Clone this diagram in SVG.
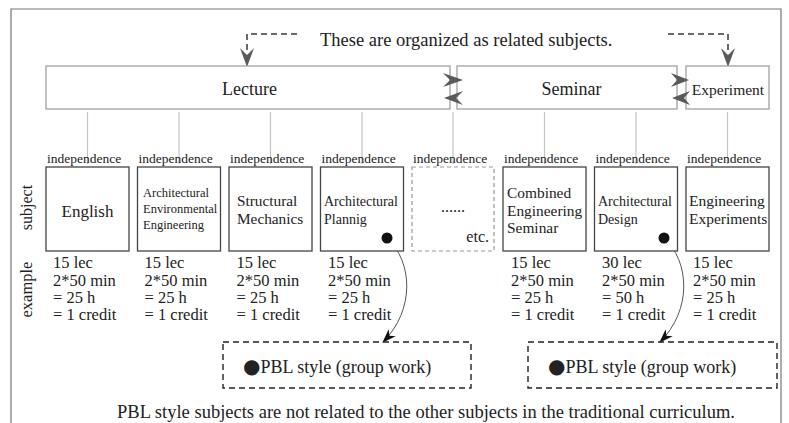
<svg xmlns="http://www.w3.org/2000/svg" width="789" height="423" viewBox="0 0 789 423" font-family="'Liberation Serif', 'Times New Roman', 'DejaVu Serif', serif">
<defs>
<style>
text{font-family:'Liberation Serif','Times New Roman','DejaVu Serif',serif;fill:#222}
.top{fill:#fff;stroke:#999;stroke-width:1.2}
.sub{fill:#fff;stroke:#444;stroke-width:1.3}
.conn{stroke:#c4c4c4;stroke-width:1.2;fill:none}
.ind{font-size:13.5px}
.ex{font-size:16.5px}
.pbl{fill:none;stroke:#222;stroke-width:1.4;stroke-dasharray:6 4}
.dash{fill:none;stroke:#6a6a6a;stroke-width:2;stroke-dasharray:6 4}
.ah{fill:#5a5a5a}
.curve{fill:none;stroke:#555;stroke-width:1}
.dot{font-family:'DejaVu Sans',sans-serif;font-size:20px}
</style>
<marker id="blk" viewBox="0 0 14 10" refX="13" refY="5" markerWidth="14" markerHeight="10" markerUnits="userSpaceOnUse" orient="auto">
<path d="M0,0 L14,5 L0,10 L4,5 Z" fill="#111"/>
</marker>
</defs>
<rect width="789" height="423" fill="#fff"/>
<path d="M11,423 V9 H781 V423" fill="none" stroke="#777" stroke-width="1.2"/>

<text x="320" y="46" font-size="18.5">These are organized as related subjects.</text>

<g id="connectors">
<path class="conn" d="M87.5,112 V164 M179,112 V164 M270.5,112 V164 M362,112 V164 M453,112 V164 M544.5,112 V164 M636,112 V164 M727.5,112 V164"/>
<path class="dash" d="M297,34 H247 V50"/>
<polygon class="ah" points="247,67 240,48 247,55 254,48"/>
<path class="dash" d="M668,34 H728 V50"/>
<polygon class="ah" points="728,67 721,48 728,55 735,48"/>
<path class="curve" d="M387,238 C413,262 415,310 383,342" marker-end="url(#blk)"/>
<path class="curve" d="M664,238 C690,262 692,310 660,342" marker-end="url(#blk)"/>
</g>

<g id="lecture">
<rect class="top" x="46" y="66" width="404" height="43"/>
<text x="249.5" y="95" font-size="18" text-anchor="middle">Lecture</text>
</g>
<g id="seminar">
<rect class="top" x="457" y="66" width="220" height="43"/>
<text x="571.5" y="95" font-size="18" text-anchor="middle">Seminar</text>
</g>
<g id="experiment">
<rect class="top" x="686" y="66" width="83" height="43"/>
<text x="728" y="95" font-size="15.5" text-anchor="middle">Experiment</text>
</g>

<g id="arrows-between">
<polygon class="ah" points="463,80 443,73 450,80 443,87"/>
<polygon class="ah" points="444,98 463,91 456,98 463,105"/>
<polygon class="ah" points="689,80 671,73 677,80 671,87"/>
<polygon class="ah" points="672,98 690,91 684,98 690,105"/>
</g>

<g id="labels">
<text x="32" y="207.5" font-size="16" text-anchor="middle" transform="rotate(-90 32 207.5)">subject</text>
<text x="32" y="289.5" font-size="16.5" text-anchor="middle" transform="rotate(-90 32 289.5)">example</text>
</g>

<g id="english">
<text class="ind" x="47" y="163">independence</text>
<rect class="sub" x="46" y="167" width="83" height="84"/>
<text x="87.5" y="217" font-size="17" text-anchor="middle">English</text>
<text class="ex"><tspan x="53" y="268">15 lec</tspan><tspan x="53" y="285.5">2*50 min</tspan><tspan x="53" y="303">= 25 h</tspan><tspan x="53" y="320">= 1 credit</tspan></text>
</g>

<g id="arch-env">
<text class="ind" x="138.5" y="163">independence</text>
<rect class="sub" x="137.5" y="167" width="83" height="84"/>
<text font-size="12.5"><tspan x="143" y="197">Architectural</tspan><tspan x="143" y="213">Environmental</tspan><tspan x="143" y="229">Engineering</tspan></text>
<text class="ex"><tspan x="144.5" y="268">15 lec</tspan><tspan x="144.5" y="285.5">2*50 min</tspan><tspan x="144.5" y="303">= 25 h</tspan><tspan x="144.5" y="320">= 1 credit</tspan></text>
</g>

<g id="structural">
<text class="ind" x="230" y="163">independence</text>
<rect class="sub" x="229" y="167" width="83" height="84"/>
<text font-size="15.3"><tspan x="237" y="206">Structural</tspan><tspan x="237" y="224">Mechanics</tspan></text>
<text class="ex"><tspan x="236.5" y="268">15 lec</tspan><tspan x="236.5" y="285.5">2*50 min</tspan><tspan x="236.5" y="303">= 25 h</tspan><tspan x="236.5" y="320">= 1 credit</tspan></text>
</g>

<g id="arch-plan">
<text class="ind" x="321.5" y="163">independence</text>
<rect class="sub" x="320.5" y="167" width="83" height="84"/>
<text font-size="14"><tspan x="324" y="206">Architectural</tspan><tspan x="324" y="224">Plannig</tspan></text>
<circle cx="387" cy="238" r="5.5" fill="#111"/>
<text class="ex"><tspan x="328" y="268">15 lec</tspan><tspan x="328" y="285.5">2*50 min</tspan><tspan x="328" y="303">= 25 h</tspan><tspan x="328" y="320">= 1 credit</tspan></text>
</g>

<g id="etc">
<text class="ind" x="413" y="163">independence</text>
<rect x="412" y="167" width="82" height="84" fill="#fff" stroke="#999" stroke-width="1.2" stroke-dasharray="4 3"/>
<text x="453" y="212" font-size="16" text-anchor="middle">......</text>
<text x="489" y="242" font-size="16" text-anchor="end">etc.</text>
</g>

<g id="combined">
<text class="ind" x="504" y="163">independence</text>
<rect class="sub" x="503" y="167" width="83" height="84"/>
<text font-size="15.4"><tspan x="507" y="198">Combined</tspan><tspan x="507" y="215.5">Engineering</tspan><tspan x="507" y="233">Seminar</tspan></text>
<text class="ex"><tspan x="511" y="268">15 lec</tspan><tspan x="511" y="285.5">2*50 min</tspan><tspan x="511" y="303">= 25 h</tspan><tspan x="511" y="320">= 1 credit</tspan></text>
</g>

<g id="arch-design">
<text class="ind" x="595.5" y="163">independence</text>
<rect class="sub" x="594.5" y="167" width="83" height="84"/>
<text font-size="14"><tspan x="598" y="206">Architectural</tspan><tspan x="598" y="224">Design</tspan></text>
<circle cx="664" cy="238" r="5.5" fill="#111"/>
<text class="ex"><tspan x="602" y="268">30 lec</tspan><tspan x="602" y="285.5">2*50 min</tspan><tspan x="602" y="303">= 50 h</tspan><tspan x="602" y="320">= 1 credit</tspan></text>
</g>

<g id="eng-exp">
<text class="ind" x="687" y="163">independence</text>
<rect class="sub" x="686" y="167" width="83" height="84"/>
<text font-size="15.5"><tspan x="689" y="206">Engineering</tspan><tspan x="689" y="224">Experiments</tspan></text>
<text class="ex"><tspan x="693" y="268">15 lec</tspan><tspan x="693" y="285.5">2*50 min</tspan><tspan x="693" y="303">= 25 h</tspan><tspan x="693" y="320">= 1 credit</tspan></text>
</g>

<g id="pbl1">
<rect class="pbl" x="223" y="342" width="248" height="46"/>
<text x="243" y="373" font-size="18"><tspan class="dot">●</tspan>PBL style (group work)</text>
</g>
<g id="pbl2">
<rect class="pbl" x="528" y="342" width="249" height="46"/>
<text x="548" y="373" font-size="18"><tspan class="dot">●</tspan>PBL style (group work)</text>
</g>

<text x="117" y="418" font-size="18.5" textLength="618" lengthAdjust="spacingAndGlyphs">PBL style subjects are not related to the other subjects in the traditional curriculum.</text>
</svg>
